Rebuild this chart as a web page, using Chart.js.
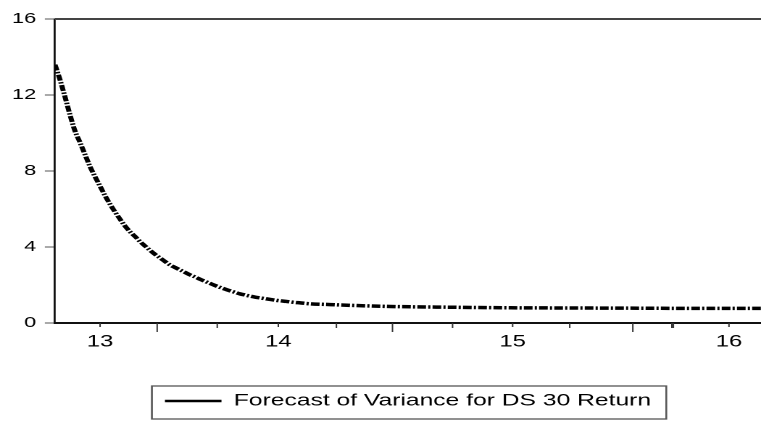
<!DOCTYPE html>
<html>
<head>
<meta charset="utf-8">
<script src="https://cdn.jsdelivr.net/npm/chart.js@4.4.1/dist/chart.umd.min.js"></script>
<style>
  html, body { margin: 0; padding: 0; background: #fff; overflow: hidden; }
  #wrap { width: 525px; height: 423px; transform: scaleX(1.4495); transform-origin: 0 0; }
</style>
</head>
<body>
<div id="wrap"><canvas id="chart" width="525" height="423"></canvas></div>
<script>
const obs = [0, 1, 2, 3, 4, 5, 6, 7, 8, 9, 10, 11, 12, 13, 14, 15, 16, 17, 18, 19,
             20, 21, 22, 23, 24, 25, 26, 27, 28, 29, 30, 31, 32, 33, 34, 35, 36, 37, 38, 39,
             40, 41, 42, 43, 44, 45, 46, 47, 48, 49, 50, 51, 55, 60, 67, 79, 91, 103, 115, 127, 141]
const variance = [13.6, 12.8, 11.9, 10.95, 10.1, 9.5, 8.86, 8.23, 7.7, 7.2, 6.7, 6.25, 5.84, 5.46, 5.1, 4.8, 4.55, 4.28, 4.05, 3.82,
                  3.61, 3.42, 3.23, 3.05, 2.92, 2.79, 2.66, 2.53, 2.42, 2.3, 2.19, 2.08, 1.97, 1.87, 1.78, 1.69, 1.61, 1.53, 1.47, 1.41,
                  1.36, 1.32, 1.28, 1.24, 1.2, 1.17, 1.14, 1.11, 1.08, 1.06, 1.03, 1.01, 0.97, 0.92, 0.87, 0.83, 0.8, 0.79, 0.78, 0.77, 0.77]

// date axis: labelled ticks and the unlabelled ones between them
const tickObs   = [9, 20.4, 32.4, 44.6, 56.2, 67.4, 79.4, 91.4, 102.8, 115.4, 123.2, 123.5, 134.6]
const tickKind  = ['label', 'major', 'minor', 'label', 'minor', 'major', 'minor', 'label', 'minor', 'major', 'minor', 'minor', 'label']
const tickNames = ['13', '', '', '14', '', '', '', '15', '', '', '', '', '16']

const yTicks = [0, 4, 8, 12, 16]
const seriesName = 'Forecast of Variance for DS 30 Return'

const tickLen = { label: 4, minor: 5, major: 9 }
const FONT = 'Arial, "Liberation Sans", sans-serif'

const frame = {
  id: 'frame',
  afterDraw(chart) {
    const { ctx, chartArea: a, scales: { x } } = chart
    ctx.save()
    // top border of the plot
    ctx.strokeStyle = '#444'
    ctx.lineWidth = 2
    ctx.beginPath()
    ctx.moveTo(a.left, a.top)
    ctx.lineTo(a.right, a.top)
    ctx.stroke()
    // tick marks on the date axis
    ctx.strokeStyle = '#333'
    ctx.lineWidth = 1
    tickObs.forEach((t, i) => {
      const px = x.getPixelForValue(t)
      ctx.beginPath()
      ctx.moveTo(px, a.bottom)
      ctx.lineTo(px, a.bottom + tickLen[tickKind[i]])
      ctx.stroke()
    })
    // box round the legend
    const hb = chart.legend.legendHitBoxes[0]
    if (hb) {
      const cy = hb.top + hb.height / 2
      ctx.strokeStyle = '#555'
      ctx.lineWidth = 1.3
      ctx.strokeRect(hb.left - 9, cy - 15, hb.width + 19.5, 33)
    }
    ctx.restore()
  }
}

new Chart(document.getElementById('chart'), {
  type: 'line',
  data: {
    datasets: [{
      label: seriesName,
      data: obs.map((t, i) => ({ x: t, y: variance[i] })),
      borderColor: '#000',
      borderWidth: 3.5,
      borderDash: [6, 1.5, 1.5, 1.5],
      pointRadius: 0,
      cubicInterpolationMode: 'monotone',
      fill: false
    }]
  },
  options: {
    responsive: false,
    animation: false,
    devicePixelRatio: 2,
    layout: { padding: { top: 19, right: 0, bottom: 3.5, left: 0 } },
    plugins: {
      tooltip: { enabled: false },
      legend: {
        position: 'bottom',
        fullSize: false,
        labels: {
          font: { family: FONT, size: 17 },
          color: '#000',
          padding: 10,
          usePointStyle: true,
          pointStyleWidth: 39,
          generateLabels: () => [{
            text: seriesName,
            fillStyle: '#000',
            strokeStyle: '#000',
            lineWidth: 2.5,
            lineDash: [],
            pointStyle: 'line',
            hidden: false,
            datasetIndex: 0
          }]
        }
      }
    },
    scales: {
      x: {
        type: 'linear',
        min: 0,
        max: 141,
        afterBuildTicks: (scale) => { scale.ticks = tickObs.map((v, i) => ({ value: v, label: tickNames[i] })).filter(t => t.label) },
        afterFit: (scale) => { scale.height = 59.5 },
        grid: { display: false, drawTicks: false },
        border: { color: '#111', width: 2 },
        ticks: {
          autoSkip: false,
          maxRotation: 0,
          padding: 9,
          color: '#000',
          font: { family: FONT, size: 16.5 },
          callback: (v, i) => tickNames[tickObs.indexOf(v)] || ''
        }
      },
      y: {
        min: 0,
        max: 16,
        afterBuildTicks: (scale) => { scale.ticks = yTicks.map(v => ({ value: v })) },
        afterFit: (scale) => { scale.width = 37.94 },
        grid: { drawOnChartArea: false, tickLength: 7, tickColor: '#555', tickWidth: 1 },
        border: { color: '#111', width: 1.4 },
        ticks: {
          padding: 6,
          color: '#000',
          font: { family: FONT, size: 15 }
        }
      }
    }
  },
  plugins: [frame]
})
</script>
</body>
</html>
